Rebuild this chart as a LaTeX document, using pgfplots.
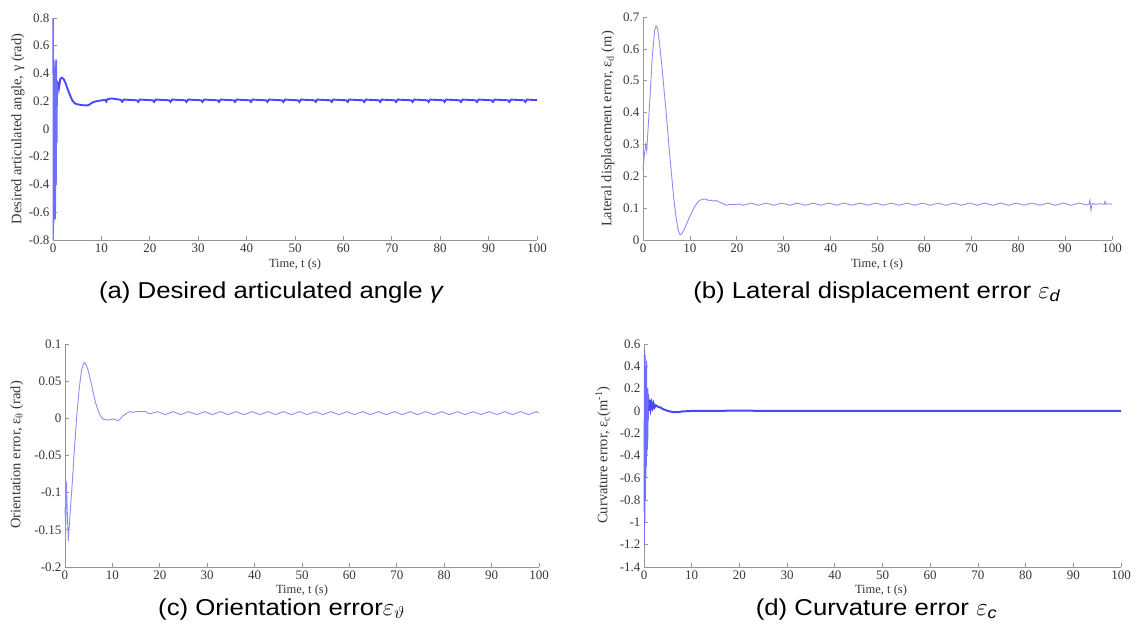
\documentclass[border=0pt]{standalone}
\usepackage{fontspec}
\setmainfont{Liberation Serif}
\newfontfamily\capfont[FakeStretch=1.12]{Liberation Sans}
\usepackage{pgfplots}
\pgfplotsset{compat=1.18}

\definecolor{axgray}{RGB}{150,150,150}
\definecolor{txtgray}{RGB}{55,55,55}
\definecolor{bluedark}{RGB}{72,72,250}
\definecolor{bluemid}{RGB}{110,110,252}
\definecolor{bluelight}{RGB}{140,140,255}

% angle gamma, start-up oscillation
\pgfplotstableread{
t y
0 0.8
0.04 -0.8
0.08 0.78
0.12 -0.7
0.18 0.3
0.24 -0.66
0.3 0.45
0.36 -0.6
0.42 0.5
0.5 -0.65
0.58 0.48
0.66 -0.4
0.74 0.5
0.82 -0.1
0.9 0.35
1.0 0.25
1.1 0.34
}\gammastart

% angle gamma
\pgfplotstableread{
t y
1.1 0.34
1.25 0.3
1.5 0.36
1.8 0.37
2.2 0.36
2.6 0.33
3.0 0.29
3.5 0.245
4.0 0.205
4.5 0.185
5.0 0.178
6.0 0.172
7.0 0.17
7.5 0.175
8.0 0.188
8.5 0.196
9.0 0.2
10.0 0.206
10.8 0.21
11.0 0.198
11.3 0.215
12.0 0.22
13.0 0.216
14.0 0.21
14.3 0.196
14.6 0.212
17.3 0.207
17.6 0.195
17.9 0.212
20.6 0.207
20.9 0.195
21.2 0.212
24.0 0.207
24.3 0.195
24.6 0.212
27.3 0.207
27.6 0.195
27.9 0.212
30.6 0.207
30.9 0.195
31.2 0.212
34.0 0.207
34.3 0.195
34.6 0.212
37.3 0.207
37.6 0.195
37.9 0.212
40.6 0.207
40.9 0.195
41.2 0.212
44.0 0.207
44.3 0.195
44.6 0.212
47.3 0.207
47.6 0.195
47.9 0.212
50.6 0.207
50.9 0.195
51.2 0.212
54.0 0.207
54.3 0.195
54.6 0.212
57.3 0.207
57.6 0.195
57.9 0.212
60.6 0.207
60.9 0.195
61.2 0.212
64.0 0.207
64.3 0.195
64.6 0.212
67.3 0.207
67.6 0.195
67.9 0.212
70.6 0.207
70.9 0.195
71.2 0.212
74.0 0.207
74.3 0.195
74.6 0.212
77.3 0.207
77.6 0.195
77.9 0.212
80.6 0.207
80.9 0.195
81.2 0.212
84.0 0.207
84.3 0.195
84.6 0.212
87.3 0.207
87.6 0.195
87.9 0.212
90.6 0.207
90.9 0.195
91.2 0.212
94.0 0.207
94.3 0.195
94.6 0.212
97.3 0.207
97.6 0.195
97.9 0.212
100 0.208
}\gammadata

% lateral displacement error
\pgfplotstableread{
t y
0 0.22
0.3 0.27
0.6 0.3
0.8 0.28
1.0 0.33
1.5 0.45
2.0 0.58
2.5 0.66
2.8 0.672
3.1 0.665
3.5 0.62
4.0 0.55
4.5 0.47
5.0 0.39
5.5 0.3
6.0 0.22
6.5 0.14
7.0 0.075
7.5 0.03
7.9 0.016
8.3 0.02
9.0 0.04
10.0 0.075
11.0 0.105
12.0 0.124
13.0 0.129
13.6 0.127
14.0 0.124
14.5 0.125
15.0 0.122
15.5 0.124
16.0 0.121
17.0 0.115
17.7 0.109
18.5 0.112
19.5 0.111
20.5 0.113
21.3 0.109
23.0 0.116
24.6 0.109
26.3 0.116
27.9 0.109
29.6 0.116
31.3 0.109
32.9 0.116
34.6 0.109
36.3 0.116
37.9 0.109
39.6 0.116
41.3 0.109
42.9 0.116
44.6 0.109
46.3 0.116
47.9 0.109
49.6 0.116
51.3 0.109
52.9 0.116
54.6 0.109
56.3 0.116
57.9 0.109
59.6 0.116
61.3 0.109
62.9 0.116
64.6 0.109
66.3 0.116
67.9 0.109
69.6 0.116
71.3 0.109
72.9 0.116
74.6 0.109
76.3 0.116
77.9 0.109
79.6 0.116
81.3 0.109
82.9 0.116
84.6 0.109
86.3 0.116
87.9 0.109
89.6 0.116
91.3 0.109
92.9 0.116
94.6 0.110
95.1 0.113
95.3 0.125
95.5 0.094
95.8 0.115
96.5 0.112
97.5 0.114
98.3 0.112
98.5 0.121
98.7 0.112
99.3 0.114
100 0.112
}\latdata

% orientation error
\pgfplotstableread{
t y
0 -0.12
0.15 -0.15
0.3 -0.085
0.45 -0.12
0.7 -0.165
1.0 -0.135
1.5 -0.09
2.0 -0.04
2.5 0.005
3.0 0.04
3.5 0.065
4.0 0.075
4.5 0.072
5.0 0.062
5.5 0.048
6.0 0.033
6.5 0.02
7.0 0.01
7.5 0.003
8.0 -0.001
8.8 -0.002
9.5 -0.002
10.0 -0.001
10.5 -0.001
11.0 -0.003
11.5 -0.002
12.0 0.002
13.0 0.007
13.7 0.009
14.3 0.008
15.0 0.009
16.0 0.009
17.0 0.009
17.8 0.006
19.5 0.009
21.1 0.005
22.8 0.009
24.4 0.005
26.1 0.009
27.8 0.005
29.5 0.009
31.1 0.005
32.8 0.009
34.4 0.005
36.1 0.009
37.8 0.005
39.5 0.009
41.1 0.005
42.8 0.009
44.4 0.005
46.1 0.009
47.8 0.005
49.5 0.009
51.1 0.005
52.8 0.009
54.4 0.005
56.1 0.009
57.8 0.005
59.5 0.009
61.1 0.005
62.8 0.009
64.4 0.005
66.1 0.009
67.8 0.005
69.5 0.009
71.1 0.005
72.8 0.009
74.4 0.005
76.1 0.009
77.8 0.005
79.5 0.009
81.1 0.005
82.8 0.009
84.4 0.005
86.1 0.009
87.8 0.005
89.5 0.009
91.1 0.005
92.8 0.009
94.4 0.005
96.1 0.009
97.8 0.005
99.5 0.009
100 0.007
}\oridata

% curvature error, start-up oscillation
\pgfplotstableread{
t y
0 -0.9
0.05 0.5
0.1 -1.2
0.15 0.55
0.2 -1.0
0.25 0.5
0.3 -0.8
0.35 0.4
0.4 -0.6
0.45 0.3
0.5 -0.5
0.55 0.45
0.6 -0.4
0.65 0.2
0.7 -0.35
0.75 0.15
0.8 -0.3
0.85 0.2
0.9 -0.1
1.0 0.15
1.1 0.0
}\curvstart

% curvature error
\pgfplotstableread{
t y
1.1 0.0
1.2 0.1
1.4 0.02
1.6 0.07
1.8 0.03
2.0 0.065
2.2 0.03
2.5 0.05
3.0 0.035
3.5 0.03
4.0 0.015
5.0 0.0
6.0 -0.01
7.0 -0.012
8.0 -0.005
10.0 0.0
20.0 0.002
30.0 0.0
40.0 0.001
50.0 0.0
60.0 0.001
70.0 0.0
80.0 0.001
90.0 0.0
100 0.0
}\curvdata

\pgfplotsset{
  mplot/.style={
    scale only axis,
    axis x line*=bottom, axis y line*=left,
    axis line style={draw=axgray, line width=0.7pt, -},
    tick align=inside,
    major tick length=4pt,
    tick style={draw=axgray, line width=0.7pt},
    xmin=0, xmax=100,
    xtick={0,10,...,100},
    xticklabels={0,10,20,30,40,50,60,70,80,90,100},
    tick label style={font=\fontsize{13}{13}\selectfont, text=txtgray},
    clip=false,
  },
}

\begin{document}
\begin{tikzpicture}
\path[use as bounding box] (0pt,0pt) rectangle (1137pt,-632pt);

% (a)
\begin{axis}[mplot, at={(53pt,-240pt)}, anchor=south west,
  width=484pt, height=222pt, ymin=-0.8, ymax=0.8,
  ytick={-0.8,-0.6,...,0.8},
  yticklabels={-0.8,-0.6,-0.4,-0.2,0,0.2,0.4,0.6,0.8}]
\addplot[bluemid, line width=1.1pt] table[x=t, y=y] {\gammastart};
\addplot[bluedark, line width=1.9pt] table[x=t, y=y] {\gammadata};
\end{axis}

% (b)
\begin{axis}[mplot, at={(643pt,-240pt)}, anchor=south west,
  width=469pt, height=223pt, ymin=0, ymax=0.7,
  ytick={0,0.1,...,0.7},
  yticklabels={0,0.1,0.2,0.3,0.4,0.5,0.6,0.7}]
\addplot[bluelight, line width=0.9pt] table[x=t, y=y] {\latdata};
\end{axis}

% (c)
\begin{axis}[mplot, at={(65pt,-567pt)}, anchor=south west,
  width=474pt, height=223pt, ymin=-0.2, ymax=0.1,
  ytick={-0.2,-0.15,-0.1,-0.05,0,0.05,0.1},
  yticklabels={-0.2,-0.15,-0.1,-0.05,0,0.05,0.1}]
\addplot[bluelight, line width=0.9pt] table[x=t, y=y] {\oridata};
\end{axis}

% (d)
\begin{axis}[mplot, at={(644pt,-567pt)}, anchor=south west,
  width=477pt, height=223pt, ymin=-1.4, ymax=0.6,
  ytick={-1.4,-1.2,-1,-0.8,-0.6,-0.4,-0.2,0,0.2,0.4,0.6},
  yticklabels={-1.4,-1.2,-1,-0.8,-0.6,-0.4,-0.2,0,0.2,0.4,0.6}]
\addplot[bluemid, line width=0.8pt] table[x=t, y=y] {\curvstart};
\addplot[bluedark, line width=2pt] table[x=t, y=y] {\curvdata};
\end{axis}

% axis labels
\begin{scope}[every node/.style={text=txtgray, font=\fontsize{12.5}{13}\selectfont, inner sep=0pt}]
\node at (295pt,-264pt) {Time, t (s)};
\node at (877pt,-264pt) {Time, t (s)};
\node at (302pt,-590pt) {Time, t (s)};
\node at (881pt,-590pt) {Time, t (s)};
\node[rotate=90, font=\fontsize{14.5}{15}\selectfont] at (18pt,-129pt) {Desired articulated angle, γ (rad)};
\node[rotate=90, font=\fontsize{14.5}{15}\selectfont] at (608pt,-129pt) {Lateral displacement error, ε\textsubscript{d} (m)};
\node[rotate=90, font=\fontsize{14.5}{15}\selectfont] at (17pt,-455pt) {Orientation error, ε\textsubscript{θ} (rad)};
\node[rotate=90, font=\fontsize{14.5}{15}\selectfont] at (603pt,-455pt) {Curvature error, ε\textsubscript{c}(m\textsuperscript{-1})};
\end{scope}

% captions
\begin{scope}[every node/.style={font=\capfont\fontsize{23}{24}\selectfont, anchor=base, inner sep=0pt}]
\node at (271.5pt,-298pt) {(a) Desired articulated angle \textit{γ}};
\node at (877pt,-298pt) {(b) Lateral displacement error $\varepsilon$\textsubscript{\textit{d}}};
\node at (281.5pt,-615pt) {(c) Orientation error$\varepsilon$\textsubscript{$\vartheta$}};
\node at (876.5pt,-615pt) {(d) Curvature error $\varepsilon$\textsubscript{\textit{c}}};
\end{scope}
\end{tikzpicture}
\end{document}
